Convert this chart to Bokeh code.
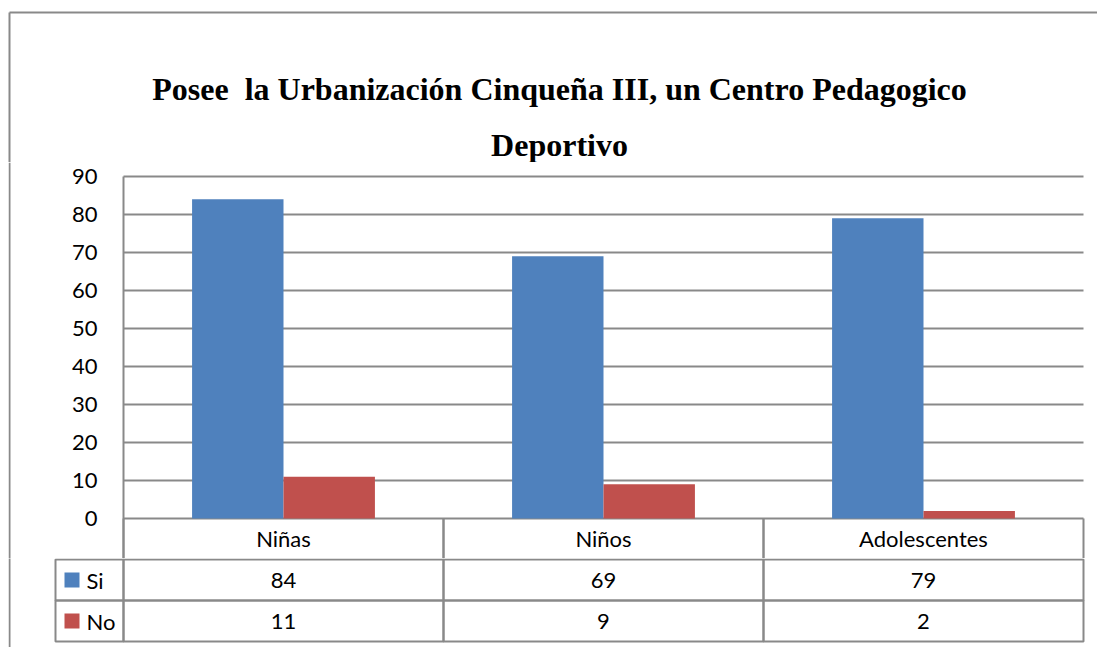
from bokeh.plotting import figure
from bokeh.models import Range1d, FixedTicker, ColumnDataSource, Label
from bokeh.transform import dodge
from bokeh.layouts import column
from bokeh.core.properties import value
from bokeh.embed import file_html
from bokeh.resources import INLINE

# ---------------- data ----------------
categories = ["Niñas", "Niños", "Adolescentes"]
series_names = ["Si", "No"]
si_values = [84, 69, 79]
no_values = [11, 9, 2]
y_ticks = [0, 10, 20, 30, 40, 50, 60, 70, 80, 90]
title_lines = ["Posee \u00a0la Urbanización Cinqueña III, un Centro Pedagogico", "Deportivo"]

# ---------------- style / layout ----------------
GRID = "#898989"
BLUE = "#4F81BD"
RED = "#C0504D"
FONT = "Lato"
FSIZE = "22px"
BAR_W = 0.2857  # gap width 150%

W, H = 1097, 647
TH = 162            # title block height
PLOT_TOP = 176      # y of the 90 gridline
ZERO_Y = 518        # y of the 0 gridline
HEAD_H = 40         # header row of the data table
SPLIT = ZERO_Y + HEAD_H   # chart figure ends, table figure starts
ROW_H = 41
Y_MAX = 90
PXY = (ZERO_Y - PLOT_TOP) / Y_MAX          # pixels per value unit
K = HEAD_H / PXY                           # value units of the header row
Y_TOP = Y_MAX + (PLOT_TOP - TH) / PXY
BORDER_X = 9
PX = 1.0 / 320                             # one pixel in category units
X0 = (8 - 123) * PX                        # frames start at x = 8
X1 = 3 + 2 * PX
BX = (BORDER_X - 123) * PX                 # outer border line
LEG_W = 68 * PX

n = len(categories)
cx = [i + 0.5 for i in range(n)]


def bare(fig):
    fig.grid.visible = False
    fig.outline_line_color = None
    return fig


common = dict(output_backend="svg", toolbar_location=None, x_axis_location=None,
              y_axis_location=None, min_border=0, frame_align=False)
txt = dict(text_font=value(FONT), text_font_size=FSIZE, text_color="black",
           text_baseline="middle")

# ---------------- title area ----------------
tf = bare(figure(width=W, height=TH, x_range=Range1d(0, W), y_range=Range1d(TH, 0), **common))
for txt_line, base in zip(title_lines, [88, 144]):
    tf.add_layout(Label(x=559, y=base, text=txt_line, text_font="Liberation Serif",
                        text_font_style="bold", text_font_size="32px", text_color="black",
                        text_align="center", text_baseline="alphabetic"))
tf.segment(x0=[BORDER_X, BORDER_X], y0=[12, 12], x1=[W, BORDER_X], y1=[12, TH],
           line_color=GRID, line_width=2)

# ---------------- chart (with the table's header row) ----------------
pf = figure(width=W, height=SPLIT - TH, x_range=Range1d(X0, X1), y_range=Range1d(-K, Y_TOP),
            min_border_left=8, min_border_right=W - 1085, min_border_top=0,
            min_border_bottom=0, output_backend="svg", toolbar_location=None,
            x_axis_location=None, y_axis_location="left", frame_align=False)
pf.outline_line_color = None
pf.xgrid.visible = False
yax = pf.yaxis[0]
yax.fixed_location = 0
yax.bounds = (-K, Y_MAX)
yax.ticker = FixedTicker(ticks=y_ticks)
yax.axis_line_color = GRID
yax.axis_line_width = 2
yax.major_tick_in = 0
yax.major_tick_out = 0
yax.minor_tick_in = 0
yax.minor_tick_out = 0
yax.major_label_standoff = 26
yax.major_label_text_font = FONT
yax.major_label_text_font_size = FSIZE
yax.major_label_text_color = "black"

pf.ygrid.grid_line_color = GRID
pf.ygrid.grid_line_width = 2
try:
    pf.ygrid.cross_bounds = (0, n)
except Exception:
    pf.ygrid.visible = False
    pf.segment(x0=[0] * len(y_ticks), x1=[n] * len(y_ticks), y0=y_ticks, y1=y_ticks,
               line_color=GRID, line_width=2)

src = ColumnDataSource(dict(cat=categories, x=cx, si=si_values, no=no_values))
pf.vbar(x=dodge("x", -BAR_W / 2), top="si", width=BAR_W, source=src,
        fill_color=BLUE, line_color=None)
pf.vbar(x=dodge("x", BAR_W / 2), top="no", width=BAR_W, source=src,
        fill_color=RED, line_color=None)
# header row of the data table
for off in (-0.5, 0.5):
    pf.segment(x0=dodge("x", off), y0=-K, x1=dodge("x", off), y1=0, source=src,
               line_color=GRID, line_width=2)
pf.text(x="x", y=-K / 2, text="cat", source=src, text_align="center", **txt)
# outer chart border (left side)
pf.segment(x0=[BX], y0=[-K], x1=[BX], y1=[Y_TOP], line_color=GRID, line_width=2)

# ---------------- data table body ----------------
TBH = H - SPLIT
tb = bare(figure(width=W, height=TBH, x_range=Range1d(X0, X1),
                 y_range=Range1d(1 + (TBH - 1) / ROW_H, 1 - 1 / ROW_H), **common))
tb.min_border_left = 8
tb.min_border_right = W - 1085

for r in (1, 2):
    tb.rect(x=cx, y=[r + 0.5] * n, width=1, height=1, fill_color=None,
            line_color=GRID, line_width=2)
tb.rect(x=[-LEG_W / 2] * 2, y=[1.5, 2.5], width=LEG_W, height=1, fill_color=None,
        line_color=GRID, line_width=2)
tb.segment(x0=[BX], y0=[0], x1=[BX], y1=[4], line_color=GRID, line_width=2)

tb.text(x=cx, y=[1.5] * n, text=[str(v) for v in si_values], text_align="center", **txt)
tb.text(x=cx, y=[2.5] * n, text=[str(v) for v in no_values], text_align="center", **txt)

tb.scatter(x=[-51.5 * PX] * 2, y=[1.5, 2.5], marker="square", size=15,
           fill_color=[BLUE, RED], line_color=None)
tb.text(x=[-37 * PX] * 2, y=[1.5, 2.5], text=series_names, text_align="left", **txt)

layout = column(tf, pf, tb)

open("out.html", "w").write(file_html(layout, INLINE))
